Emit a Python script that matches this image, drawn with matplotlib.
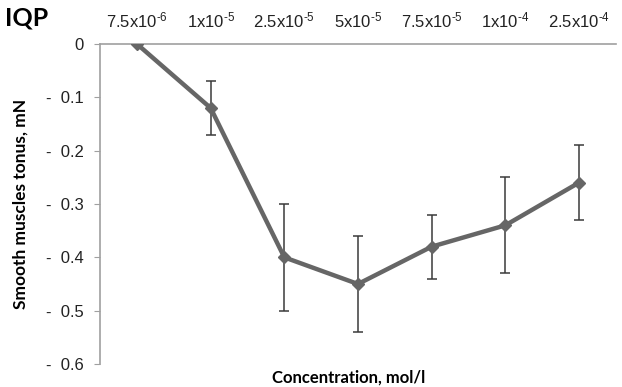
import numpy as np
import matplotlib
matplotlib.use("Agg")
import matplotlib.pyplot as plt

# concentrations (mol/l) shown as category labels on top
conc_labels = [r'7.5x10$^{\text{-6}}$', r'1x10$^{\text{-5}}$', r'2.5x10$^{\text{-5}}$',
               r'5x10$^{\text{-5}}$', r'7.5x10$^{\text{-5}}$', r'1x10$^{\text{-4}}$',
               r'2.5x10$^{\text{-4}}$']
tonus = [0.0, -0.12, -0.40, -0.45, -0.38, -0.34, -0.26]
err = [0.0, 0.05, 0.10, 0.09, 0.06, 0.09, 0.07]
yticks = [0, -0.1, -0.2, -0.3, -0.4, -0.5, -0.6]

plt.rcParams['font.family'] = ['Liberation Sans', 'DejaVu Sans']
plt.rcParams['mathtext.fontset'] = 'custom'
plt.rcParams['mathtext.rm'] = 'Liberation Sans'
plt.rcParams['mathtext.it'] = 'Liberation Sans'

fig = plt.figure(figsize=(6.22, 3.87), dpi=100)
ax = fig.add_axes([0.161, 0.0594, 0.829, 0.8269])

x = np.arange(len(tonus))
ax.errorbar(x, tonus, yerr=err, fmt='none', ecolor='#3a3a3a', elinewidth=1.1,
            capsize=3.5, capthick=1.1, zorder=2)
ax.plot(x, tonus, color='#666666', lw=3.2, marker='D', ms=6, zorder=3)

ax.set_xlim(-0.5, 6.5)
ax.set_ylim(-0.6, 0)
ax.set_yticks(yticks)
ax.set_yticklabels(['0'] + ['-  %.1f' % abs(v) for v in yticks[1:]], fontsize=12,
                   color='#222222')
ax.tick_params(axis='y', direction='out', length=4, color='#a0a0a0', pad=8)

ax.xaxis.tick_top()
ax.set_xticks(x)
ax.set_xticklabels(conc_labels, fontsize=12, color='#222222')
ax.tick_params(axis='x', length=0, pad=10)

for s in ['bottom', 'right']:
    ax.spines[s].set_visible(False)
for s in ['top', 'left']:
    ax.spines[s].set_color('#a0a0a0')
    ax.spines[s].set_linewidth(1.2)

ax.set_ylabel('Smooth muscles tonus, mN', fontsize=12.5, fontweight='bold',
              family='Lato', labelpad=12)
fig.text(0.56, 0.025, 'Concentration, mol/l', fontsize=12, fontweight='bold',
         family='Lato', ha='center', va='center')
fig.text(0.008, 0.953, 'IQP', fontsize=18, fontweight='bold', family='Lato',
         ha='left', va='center')

fig.savefig('out.png', dpi=100)
